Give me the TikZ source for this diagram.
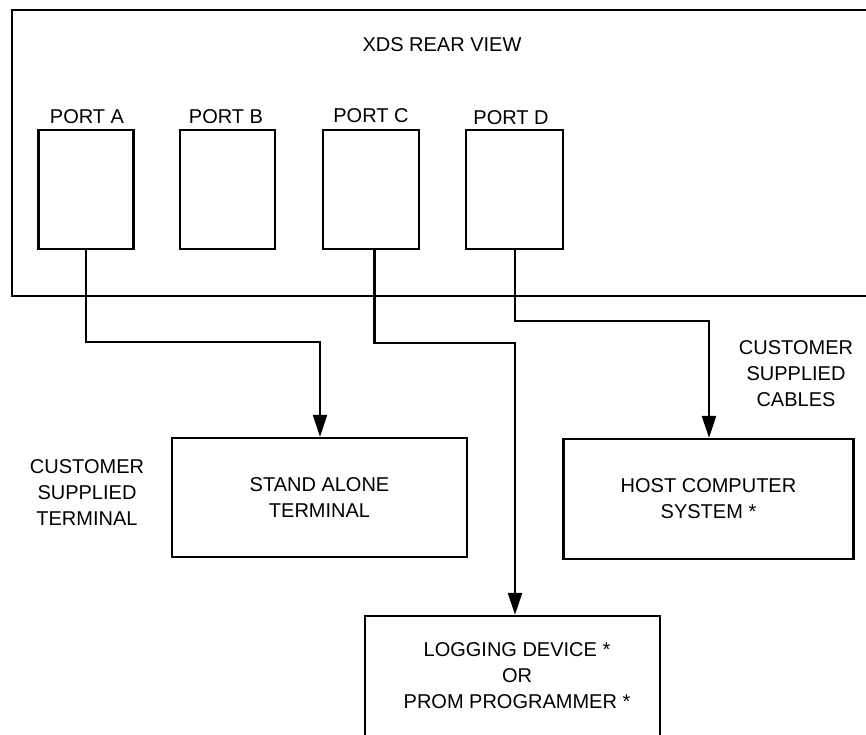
\documentclass[tikz,border=0pt]{standalone}
\usepackage{fontspec}
\setmainfont{Liberation Sans}
\usetikzlibrary{arrows.meta,calc}
\begin{document}
\begin{tikzpicture}[x=1pt,y=-1pt,
  line width=2.3pt,
  lbl/.style={font=\fontsize{20}{26}\selectfont, align=center, inner sep=0pt},
  port/.style={draw, minimum width=95pt, minimum height=119pt, inner sep=0pt},
  unit/.style={draw, align=center, inner sep=0pt, font=\fontsize{20}{26}\selectfont},
  cable/.style={-{Triangle[length=22pt,width=14pt]}}
]
\clip (0,0) rectangle (866,734);
\fill[white] (0,0) rectangle (866,734);
% outer chassis (open to the right)
\draw (870,10) -- (12,10) -- (12,296) -- (870,296);
\node[lbl] (title) at (442,45) {XDS REAR VIEW};
% ports
\node[port] (pa) at (86,189.5) {};
\node[port] (pb) at (227.5,189.5) {};
\node[port, minimum width=96pt] (pc) at (371,189.5) {};
\node[port, minimum width=97pt] (pd) at (514.5,189.5) {};
\node[lbl] (la) at (87,117) {PORT A};
\node[lbl] (lb) at (226,117) {PORT B};
\node[lbl] (lc) at (371,116) {PORT C};
\node[lbl] (ld) at (511,118) {PORT D};
% units
\node[unit, minimum width=295pt, minimum height=119pt] (sa) at (319.5,497.5) {STAND ALONE\\TERMINAL};
\node[unit, minimum width=290pt, minimum height=120pt] (hc) at (708.5,499) {HOST COMPUTER\\SYSTEM *};
\node[draw, minimum width=295pt, minimum height=160pt, inner sep=0pt] (ld2) at (512.3,696) {};
\node[lbl] (ldt) at (517,676) {LOGGING DEVICE *\\OR\\PROM PROGRAMMER *};
% side labels
\node[lbl] (cst) at (87,493) {CUSTOMER\\SUPPLIED\\TERMINAL};
\node[lbl] (csc) at (796,374) {CUSTOMER\\SUPPLIED\\CABLES};
% cables
\coordinate (ca) at (pa.south);
\coordinate (cc) at ($(pc.south)+(3.6,0)$);
\coordinate (cd) at ($(pd.south)+(0.5,0)$);
\draw[cable] (ca) |- (320,342) -- (320,438 |- sa.north);
\draw[cable] (cc) |- (515,343) -- (515,616 |- ld2.north);
\draw[cable] (cd) |- (709,321) -- (709,438 |- hc.north);
\end{tikzpicture}
\end{document}
